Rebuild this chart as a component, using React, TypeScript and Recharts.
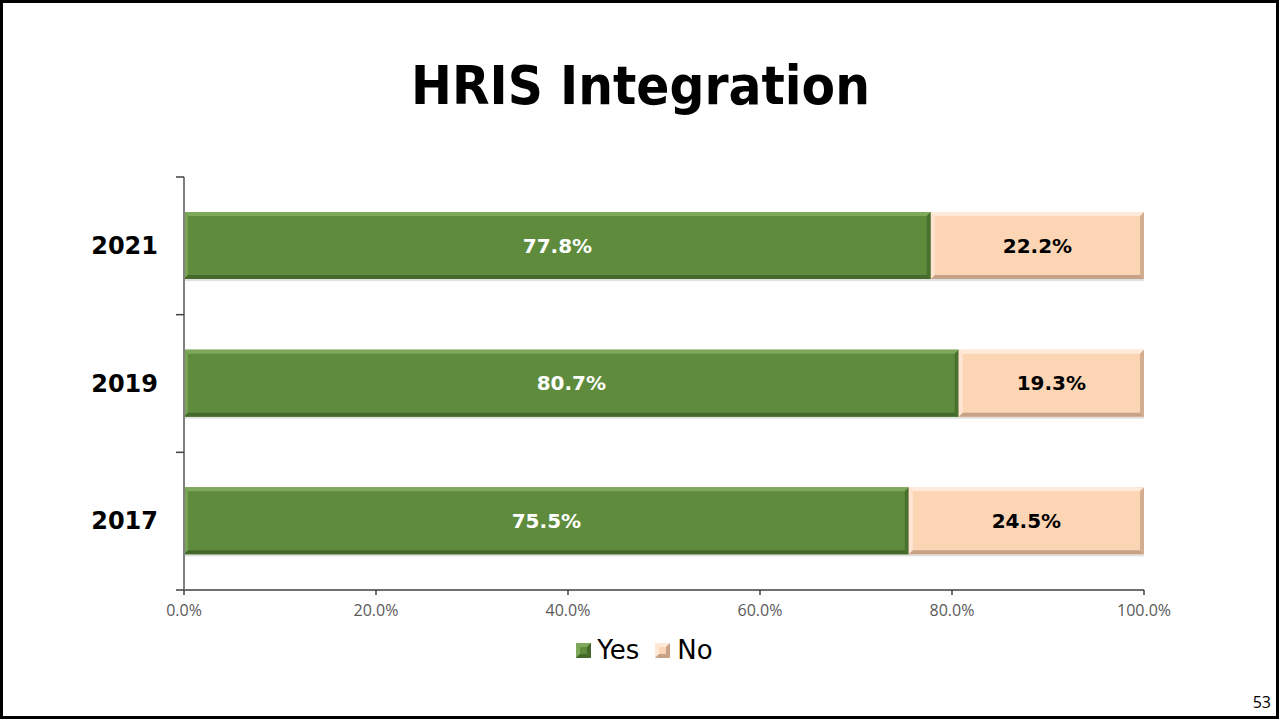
import React from "react";
import { BarChart, Bar, XAxis, YAxis, Legend, LabelList } from "recharts";

const categories = ["2021", "2019", "2017"];
const yesValues = [77.8, 80.7, 75.5];
const noValues = [22.2, 19.3, 24.5];
const xTicks = [0, 20, 40, 60, 80, 100];

const data = categories.map((c, i) => ({ year: c, Yes: yesValues[i], No: noValues[i] }));

const GREEN = { main: "#5E8C3C", light: "#7EA95A", dark: "#44692A" };
const PEACH = { main: "#FCD5B5", light: "#FFE9D8", dark: "#C7A286" };

const Y_TICK_SIZE = 8;
const Y_TICK_MARGIN = 18;

const makeBevel = (c: { main: string; light: string; dark: string }) => (props: any) => {
  const { x, y, width, height } = props;
  if (!width || !height) return null;
  const b = 4;
  return (
    <g>
      <rect x={x} y={y + height} width={width} height={2} fill="rgba(0,0,0,0.12)" />
      <rect x={x} y={y} width={width} height={height} fill={c.main} />
      <polygon points={`${x},${y} ${x + width},${y} ${x + width - b},${y + b} ${x + b},${y + b}`} fill={c.light} />
      <polygon points={`${x},${y} ${x + b},${y + b} ${x + b},${y + height - b} ${x},${y + height}`} fill={c.light} opacity={0.8} />
      <polygon points={`${x},${y + height} ${x + b},${y + height - b} ${x + width - b},${y + height - b} ${x + width},${y + height}`} fill={c.dark} />
      <polygon points={`${x + width},${y} ${x + width},${y + height} ${x + width - b},${y + height - b} ${x + width - b},${y + b}`} fill={c.dark} opacity={0.8} />
    </g>
  );
};

const GreenShape = makeBevel(GREEN);
const PeachShape = makeBevel(PEACH);

const CategoryTick = (props: any) => {
  const { x, y, payload, index, visibleTicksCount } = props;
  const half = payload && payload.offset ? payload.offset : 0;
  const axisX = x + Y_TICK_MARGIN + Y_TICK_SIZE;
  const isLast = visibleTicksCount ? index === visibleTicksCount - 1 : index === categories.length - 1;
  return (
    <g>
      <line x1={axisX - Y_TICK_SIZE} x2={axisX} y1={y - half} y2={y - half} stroke="#404040" strokeWidth={1.5} />
      {isLast && (
        <line x1={axisX - Y_TICK_SIZE} x2={axisX} y1={y + half} y2={y + half} stroke="#404040" strokeWidth={1.5} />
      )}
      <text
        x={x}
        y={y}
        textAnchor="end"
        dominantBaseline="central"
        fill="#000"
        fontSize={24}
        fontWeight="bold"
        fontFamily="'DejaVu Sans', sans-serif"
      >
        {payload.value}
      </text>
    </g>
  );
};

const LegendSwatch = ({ c }: { c: { main: string; light: string; dark: string } }) => (
  <svg width={15} height={15} style={{ display: "block" }}>
    <rect x={0} y={0} width={15} height={15} fill={c.main} />
    <polygon points="0,0 15,0 11,4 4,4" fill={c.light} />
    <polygon points="0,0 4,4 4,11 0,15" fill={c.light} />
    <polygon points="0,15 4,11 11,11 15,15" fill={c.dark} />
    <polygon points="15,0 15,15 11,11 11,4" fill={c.dark} />
  </svg>
);

const renderLegend = () => (
  <div
    style={{
      display: "flex",
      justifyContent: "center",
      alignItems: "center",
      height: 40,
      fontFamily: "'DejaVu Sans', sans-serif",
      fontSize: 26,
      color: "#000",
      paddingLeft: 10,
    }}
  >
    <div style={{ display: "flex", alignItems: "center", marginRight: 16 }}>
      <LegendSwatch c={GREEN} />
      <span style={{ marginLeft: 6 }}>Yes</span>
    </div>
    <div style={{ display: "flex", alignItems: "center" }}>
      <LegendSwatch c={PEACH} />
      <span style={{ marginLeft: 7 }}>No</span>
    </div>
  </div>
);

export default function App() {
  return (
    <div style={{ position: "absolute", left: 0, top: 0, width: 1279, height: 719, background: "#fff" }}>
      <svg width={1279} height={130} style={{ position: "absolute", left: 0, top: 0 }}>
        <text
          x={640.5}
          y={104}
          textAnchor="middle"
          fontFamily="'DejaVu Sans', sans-serif"
          fontWeight="bold"
          fontSize={53}
          textLength={459}
          lengthAdjust="spacingAndGlyphs"
          fill="#000"
        >
          HRIS Integration
        </text>
      </svg>
      <div style={{ position: "absolute", left: 0, top: 0 }}>
        <BarChart
          width={1279}
          height={719}
          data={data}
          layout="vertical"
          margin={{ top: 177, right: 135, bottom: 49, left: 0 }}
          barSize={67}
        >
          <XAxis
            type="number"
            domain={[0, 100]}
            ticks={xTicks}
            tickFormatter={(v: number) => v.toFixed(1) + "%"}
            tick={{ fill: "#595959", fontSize: 16, fontFamily: "'Open Sans', sans-serif" }}
            axisLine={{ stroke: "#404040", strokeWidth: 1.5 }}
            tickLine={{ stroke: "#404040", strokeWidth: 1.5 }}
            tickSize={5}
            tickMargin={10}
            height={40}
            allowDataOverflow
          />
          <YAxis
            type="category"
            dataKey="year"
            width={184}
            axisLine={{ stroke: "#808080", strokeWidth: 2 }}
            tickLine={false}
            tickSize={Y_TICK_SIZE}
            tickMargin={Y_TICK_MARGIN}
            tick={CategoryTick}
            interval={0}
          />
          <Legend
            verticalAlign="bottom"
            height={40}
            content={renderLegend}
            wrapperStyle={{ height: 40, left: 0, width: 1279 }}
          />
          <Bar dataKey="Yes" stackId="a" fill={GREEN.main} shape={GreenShape} isAnimationActive={false}>
            <LabelList
              dataKey="Yes"
              position="center"
              formatter={(v: any) => Number(v).toFixed(1) + "%"}
              fill="#fff"
              style={{ fontSize: 20, fontWeight: "bold", fontFamily: "'DejaVu Sans', sans-serif", fill: "#fff" }}
            />
          </Bar>
          <Bar dataKey="No" stackId="a" fill={PEACH.main} shape={PeachShape} isAnimationActive={false}>
            <LabelList
              dataKey="No"
              position="center"
              formatter={(v: any) => Number(v).toFixed(1) + "%"}
              fill="#000"
              style={{ fontSize: 20, fontWeight: "bold", fontFamily: "'DejaVu Sans', sans-serif", fill: "#000" }}
            />
          </Bar>
        </BarChart>
      </div>
      <div
        style={{
          position: "absolute",
          right: 8,
          bottom: 6,
          fontFamily: "'Open Sans', sans-serif",
          fontSize: 16,
          color: "#000",
        }}
      >
        53
      </div>
      <div
        style={{
          position: "absolute",
          left: 0,
          top: 0,
          width: 1279,
          height: 719,
          boxSizing: "border-box",
          border: "3px solid #000",
          pointerEvents: "none",
        }}
      />
    </div>
  );
}
